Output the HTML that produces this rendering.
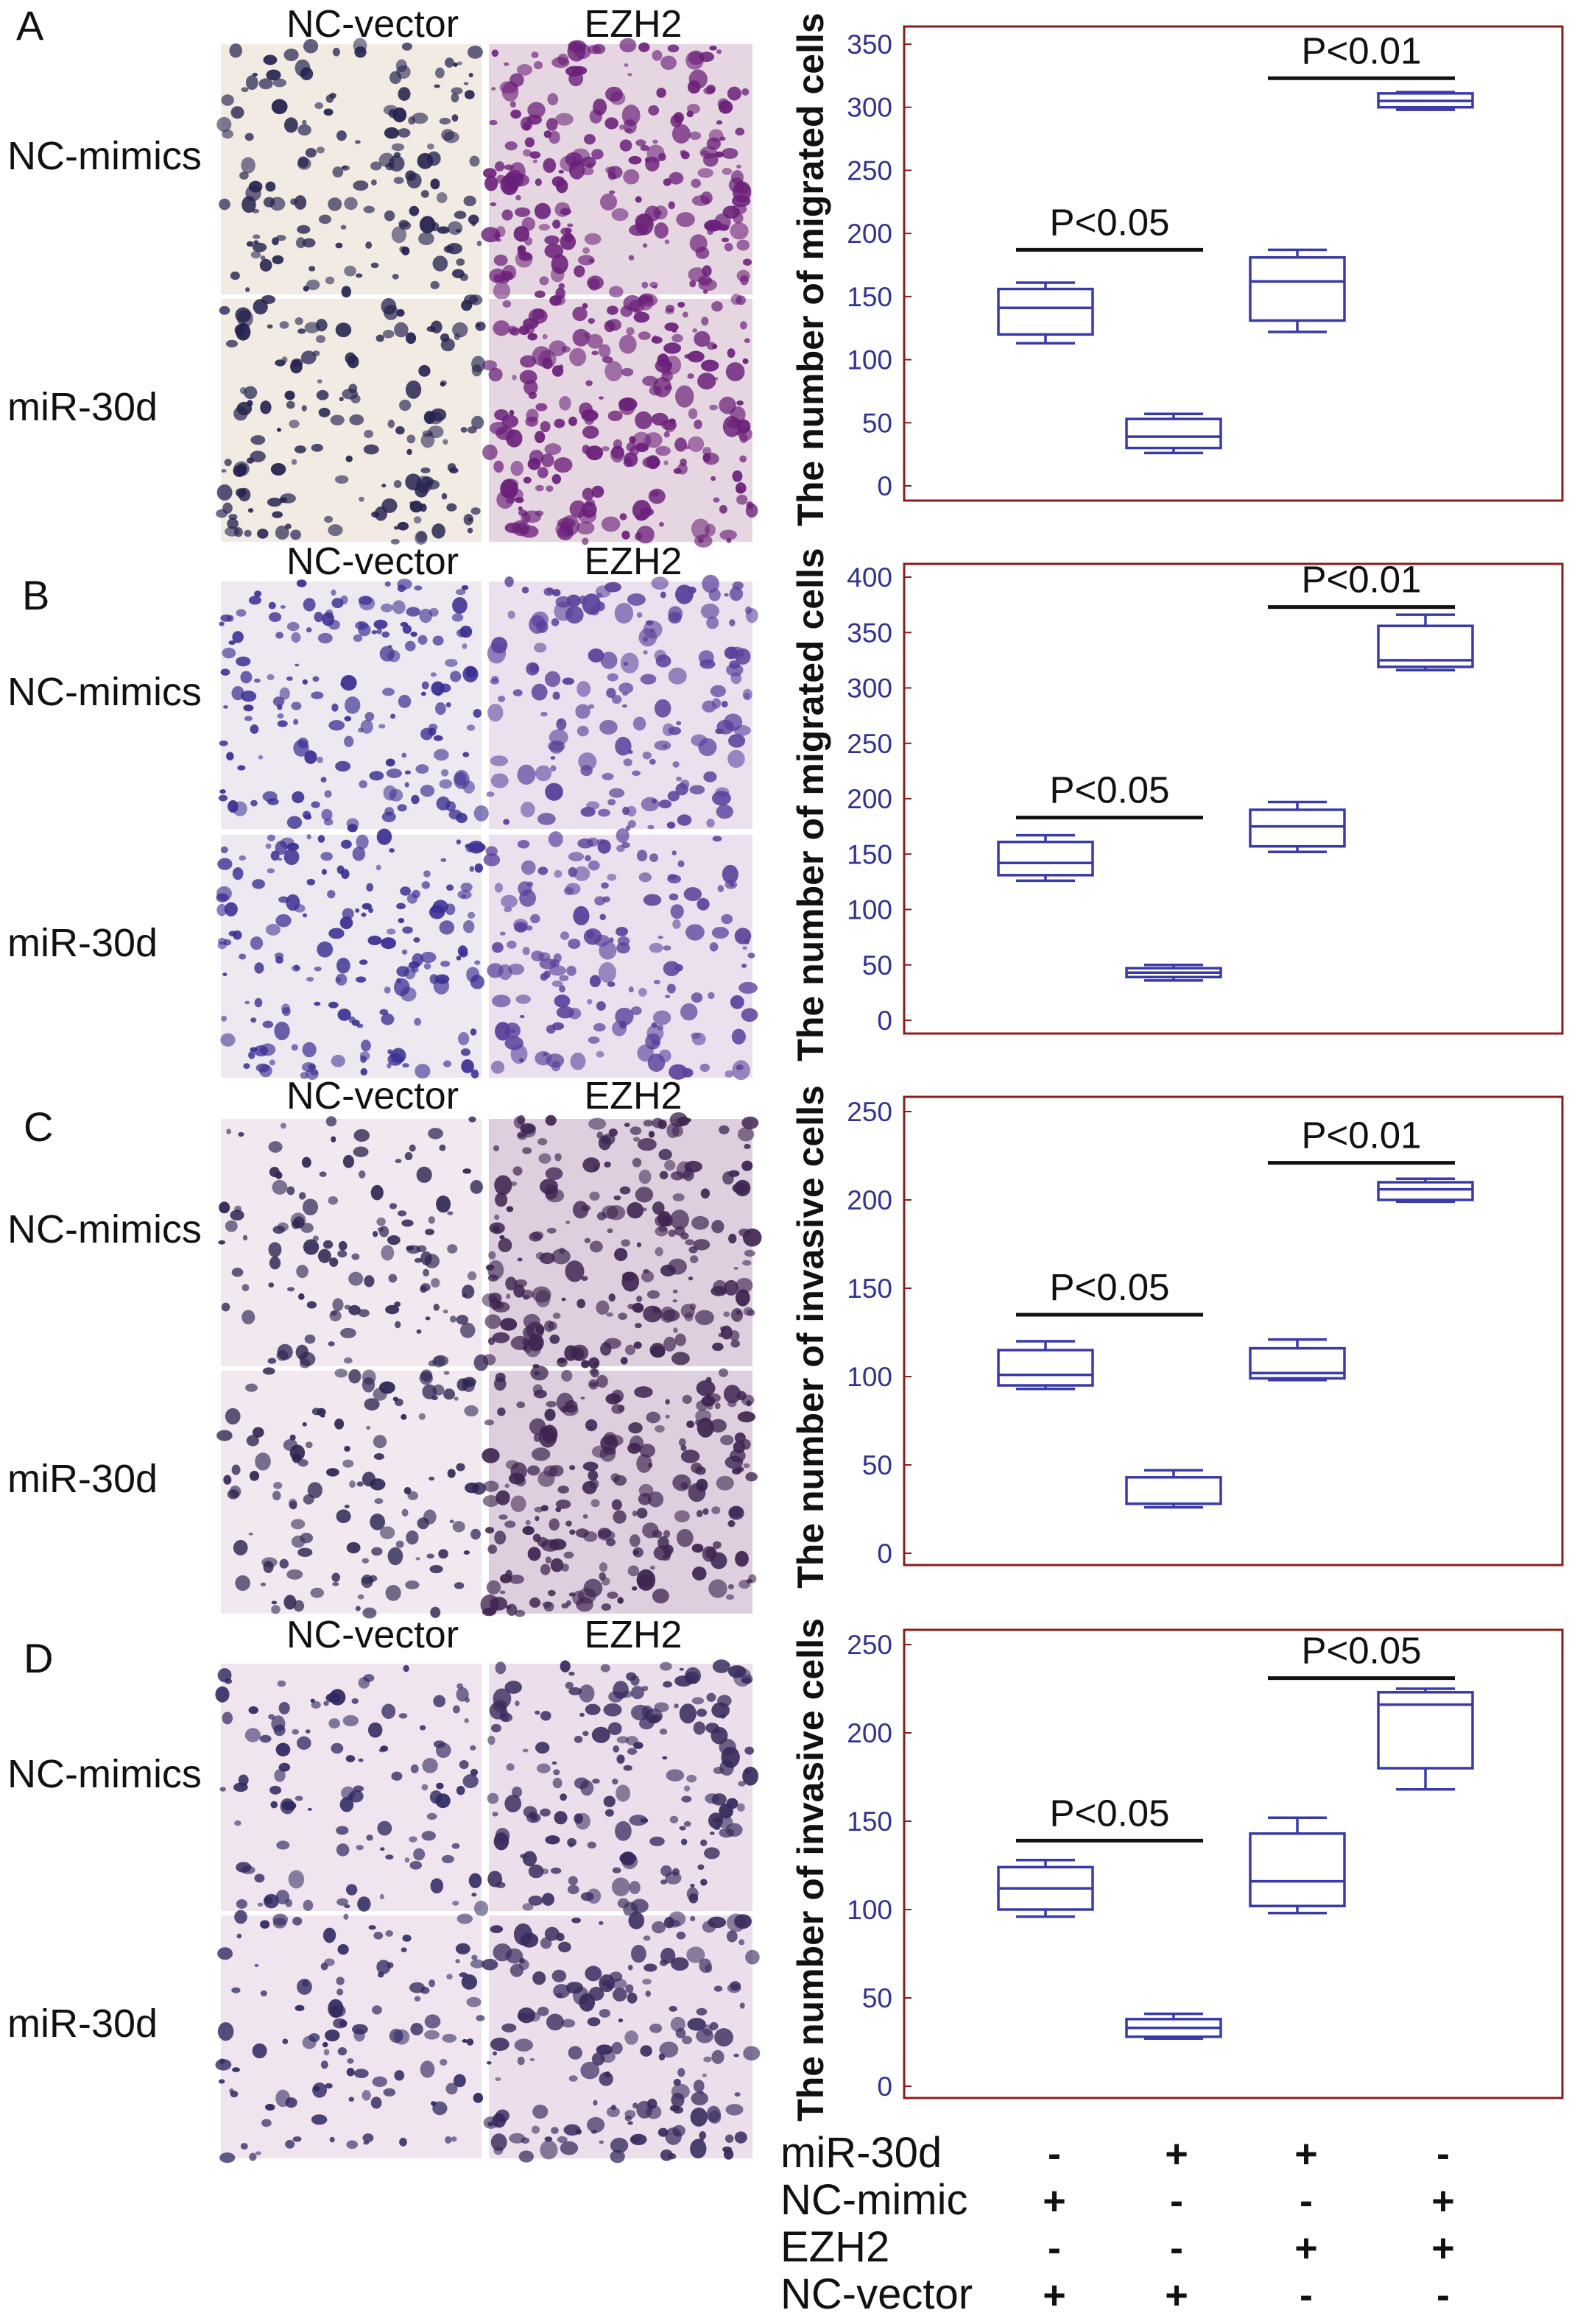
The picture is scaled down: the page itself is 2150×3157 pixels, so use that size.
<!DOCTYPE html>
<html><head><meta charset="utf-8"><style>
html,body{margin:0;padding:0;background:#fff}
svg{display:block;font-family:"Liberation Sans",Arial,sans-serif}
</style></head><body>
<svg id="fig" width="2150" height="3157" viewBox="0 0 2150 3157" xmlns="http://www.w3.org/2000/svg">
<g id="photos"></g>
<g id="charts"></g>
<g id="table"></g>
</svg>
<script>
// ---- chart data (per panel) ----
const groupsA = ["g1","g2","g3","g4"];
const whiskLoA = [113,26,122,298], q1A=[120,30,131,300], medA=[141,39,162,305], q3A=[156,53,181,311], whiskHiA=[161,57,187,312];
const ticksA = [0,50,100,150,200,250,300,350];
const sigA = [["P<0.05",0,1,187],["P<0.01",2,3,323]];

const whiskLoB=[126,36,152,316], q1B=[131,39,157,319], medB=[142,43,175,325], q3B=[161,47,190,356], whiskHiB=[167,50,197,366];
const ticksB=[0,50,100,150,200,250,300,350,400];
const sigB=[["P<0.05",0,1,183],["P<0.01",2,3,373]];

const whiskLoC=[93,26,98,199], q1C=[95,28,99,200], medC=[101,28,102,206], q3C=[115,43,116,210], whiskHiC=[120,47,121,212];
const ticksC=[0,50,100,150,200,250];
const sigC=[["P<0.05",0,1,135],["P<0.01",2,3,221]];

const whiskLoD=[96,27,98,168], q1D=[100,28,102,180], medD=[112,33,116,216], q3D=[124,38,143,223], whiskHiD=[128,41,152,225];
const ticksD=[0,50,100,150,200,250];
const sigD=[["P<0.05",0,1,139],["P<0.05",2,3,231]];

const NS="http://www.w3.org/2000/svg";
function mk(tag,attrs,parent,txt){const e=document.createElementNS(NS,tag);for(const k in attrs)e.setAttribute(k,attrs[k]);if(txt!==undefined)e.textContent=txt;parent.appendChild(e);return e;}

const panels=[
 {letter:"A",top:36,bot:680,y0:660,yTop:60,max:350,ticks:ticksA,lo:whiskLoA,q1:q1A,med:medA,q3:q3A,hi:whiskHiA,sig:sigA,title:"The number of migrated cells",rows:[[60,400],[406,736]]},
 {letter:"B",top:766,bot:1404,y0:1386,yTop:784,max:400,ticks:ticksB,lo:whiskLoB,q1:q1B,med:medB,q3:q3B,hi:whiskHiB,sig:sigB,title:"The number of migrated cells",rows:[[790,1126],[1134,1464]]},
 {letter:"C",top:1490,bot:2126,y0:2110,yTop:1510,max:250,ticks:ticksC,lo:whiskLoC,q1:q1C,med:medC,q3:q3C,hi:whiskHiC,sig:sigC,title:"The number of invasive cells",rows:[[1520,1856],[1862,2192]]},
 {letter:"D",top:2214,bot:2850,y0:2834,yTop:2234,max:250,ticks:ticksD,lo:whiskLoD,q1:q1D,med:medD,q3:q3D,hi:whiskHiD,sig:sigD,title:"The number of invasive cells",rows:[[2260,2596],[2602,2932]]}
];
const xCenters=[1420,1594,1762,1936];
const boxW=128, capW=80;
const frameL=1228, frameR=2122;
const charts=document.getElementById('charts');
const photos=document.getElementById('photos');

// seeded RNG for decorative micrograph texture
let seed=12345;function rnd(){seed=(seed*1103515245+12345)%2147483648;return seed/2147483648;}
const bgCols=[["#f2ebe4","#e6d6e2"],["#eee8f0","#ebe0ee"],["#f1e8f0","#ddcfdd"],["#f0e4ee","#ecdfeb"]];
const dotCols=[["#24224e","#6a1f78"],["#3a2f92","#5a3f9a"],["#2c2450","#3e2450"],["#2e2860","#362a5c"]];
const dens=[[150,230],[170,160],[120,220],[110,170]];

panels.forEach((p,pi)=>{
  const g=mk('g',{},charts);
  
  
  const y=v=>p.y0-(v/p.max)*(p.y0-p.yTop);
  const fr=mk('rect',{x:frameL,y:p.top,width:frameR-frameL,height:p.bot-p.top,fill:"none",stroke:"#8b1c1c","stroke-width":3},g);
  
  
  p.ticks.forEach(t=>{
    const tl=mk('line',{x1:frameL,x2:frameL+10,y1:y(t),y2:y(t),stroke:"#8b1c1c","stroke-width":2},g);
    
    
    const tx=mk('text',{x:frameL-16,y:y(t)+13,"text-anchor":"end","font-size":37,fill:"#33338f"},g,String(t));
    
    
  });
  const cy=(p.top+p.bot)/2+8;
  const yt=mk('text',{x:0,y:0,transform:`translate(1118,${cy}) rotate(-90)`,"text-anchor":"middle","font-size":50,"font-weight":"bold",fill:"#111"},g,p.title);
  
  
  xCenters.forEach((cx,i)=>{
    const bg=mk('g',{stroke:"#3a3aa8","stroke-width":3.5,fill:"none"},g);
    
    
    mk('line',{x1:cx,x2:cx,y1:y(p.hi[i]),y2:y(p.q3[i])},bg);
    mk('line',{x1:cx,x2:cx,y1:y(p.q1[i]),y2:y(p.lo[i])},bg);
    mk('line',{x1:cx-capW/2,x2:cx+capW/2,y1:y(p.hi[i]),y2:y(p.hi[i])},bg);
    mk('line',{x1:cx-capW/2,x2:cx+capW/2,y1:y(p.lo[i]),y2:y(p.lo[i])},bg);
    mk('rect',{x:cx-boxW/2,y:y(p.q3[i]),width:boxW,height:y(p.q1[i])-y(p.q3[i])},bg);
    mk('line',{x1:cx-boxW/2,x2:cx+boxW/2,y1:y(p.med[i]),y2:y(p.med[i])},bg);
  });
  p.sig.forEach(s=>{
    const x1=xCenters[s[1]]-40, x2=xCenters[s[2]]+40;
    const sl=mk('line',{x1:x1,x2:x2,y1:y(s[3]),y2:y(s[3]),stroke:"#111","stroke-width":5},g);
    
    
    const st=mk('text',{x:(x1+x2)/2,y:y(s[3])-20,"text-anchor":"middle","font-size":51,fill:"#111"},g,s[0]);
    
    
  });
  const pg=mk('g',{},photos);
  
  
  const cols=[[300,654],[664,1022]];
  p.rows.forEach((r,ri)=>{
    cols.forEach((c,ci)=>{
      const cell=mk('g',{},pg);
      
      
      mk('rect',{x:c[0],y:r[0],width:c[1]-c[0],height:r[1]-r[0],fill:bgCols[pi][ci]},cell);
      const n=dens[pi][ci];
      for(let k=0;k<n;k++){
        const rr=3+rnd()*(ci?10:8);
        mk('ellipse',{cx:c[0]+rnd()*(c[1]-c[0]),cy:r[0]+rnd()*(r[1]-r[0]),rx:rr,ry:rr*(0.6+rnd()*0.6),fill:dotCols[pi][ci],opacity:0.55+rnd()*0.4},cell);
      }
    });
  });
  const letterY=[54,828,1550,2272][pi];
  const lt=mk('text',{x:[22,30,32,32][pi],y:letterY,"font-size":56,fill:"#111"},pg,p.letter);
  
  
  const hy=[50,780,1506,2238][pi];
  const h1=mk('text',{x:506,y:hy,"text-anchor":"middle","font-size":52,fill:"#111"},pg,"NC-vector");
  
  
  const h2=mk('text',{x:860,y:hy,"text-anchor":"middle","font-size":52,fill:"#111"},pg,"EZH2");
  
  
  const r1=mk('text',{x:10,y:(p.rows[0][0]+p.rows[0][1])/2,"font-size":54,fill:"#111"},pg,"NC-mimics");
  
  
  const r2=mk('text',{x:10,y:(p.rows[1][0]+p.rows[1][1])/2,"font-size":54,fill:"#111"},pg,"miR-30d");
  
  
});

// ---- condition table ----
const condNames=["miR-30d","NC-mimic","EZH2","NC-vector"];
const condSigns=[["-","+","+","-"],["+","-","-","+"],["-","-","+","+"],["+","+","-","-"]];
const tbl=document.getElementById('table');
const rowY=[2944,3008,3072,3136];
const signX=[1432,1598,1774,1960];
condNames.forEach((nm,ri)=>{
  const t=mk('text',{x:1060,y:rowY[ri],"font-size":58,fill:"#111"},tbl,nm);
  
  
  condSigns[ri].forEach((s,ci)=>{
    const st=mk('text',{x:signX[ci],y:rowY[ri],"text-anchor":"middle","font-size":54,"font-weight":"bold",fill:"#111"},tbl,s);
    
    
  });
});
</script>
</body></html>
